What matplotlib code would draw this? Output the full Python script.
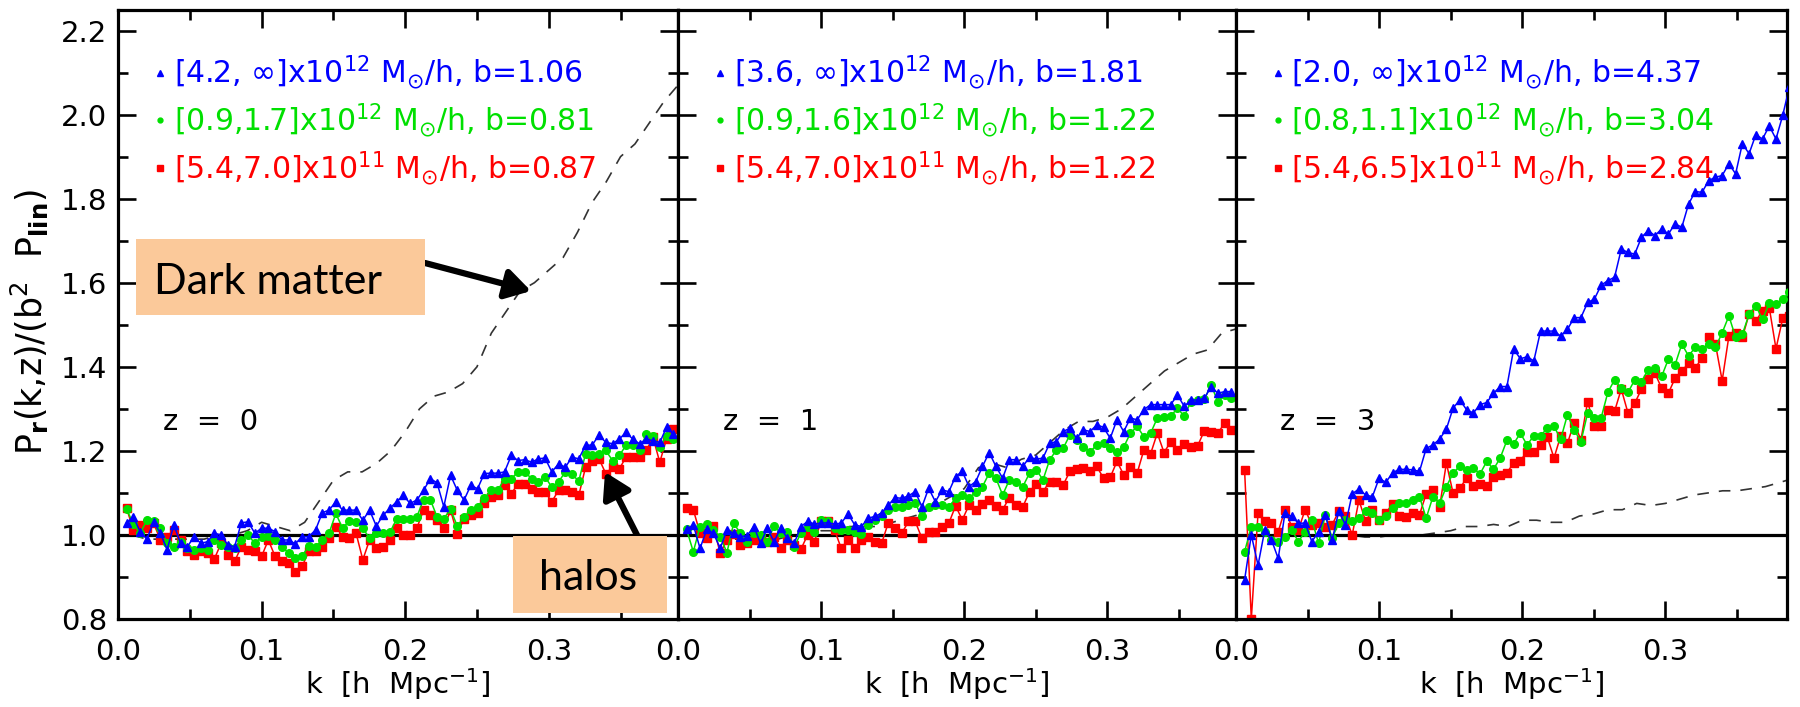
import numpy as np
import matplotlib.pyplot as plt
from matplotlib.lines import Line2D
from matplotlib.patches import Rectangle
from matplotlib.ticker import MultipleLocator, FormatStrFormatter

plt.rcParams['font.family'] = ['DejaVu Sans']
plt.rcParams['mathtext.fontset'] = 'dejavusans'

# halo spectra are sampled on a regular k grid (h/Mpc)
K_START = 0.006
K_STEP = 0.0047
N_K = 82
k = K_START + K_STEP * np.arange(N_K)
k_dm = np.arange(1, 40) * 0.01

# ---- z = 0 ----
blue_z0 = [1.029, 1.043, 1.008, 0.990, 1.031, 1.004, 0.965, 1.024, 0.980, 0.972,
           0.996, 0.980, 0.984, 1.004, 1.000, 0.976, 0.972, 1.029, 1.031, 1.004,
           1.016, 1.016, 1.008, 0.988, 0.988, 0.979, 0.996, 0.996, 1.012, 1.053,
           1.059, 1.079, 1.059, 1.059, 1.059, 1.035, 1.059, 1.021, 1.047, 1.063,
           1.079, 1.094, 1.075, 1.083, 1.106, 1.134, 1.124, 1.067, 1.142, 1.106,
           1.083, 1.118, 1.110, 1.146, 1.147, 1.147, 1.150, 1.189, 1.177, 1.179,
           1.173, 1.181, 1.183, 1.150, 1.169, 1.161, 1.185, 1.181, 1.213, 1.214,
           1.238, 1.220, 1.217, 1.228, 1.244, 1.228, 1.217, 1.228, 1.224, 1.220,
           1.256, 1.240]
green_z0 = [1.061, 1.026, 1.004, 1.035, 1.034, 1.016, 0.980, 0.972, 0.984, 0.969,
            0.963, 0.969, 0.963, 0.988, 0.976, 0.972, 0.969, 0.988, 1.000, 0.980,
            0.996, 0.998, 0.988, 0.972, 0.957, 0.945, 0.950, 0.974, 0.972, 0.988,
            1.004, 1.051, 1.016, 1.034, 1.031, 1.016, 0.992, 1.004, 1.004, 1.006,
            1.037, 1.037, 1.037, 1.043, 1.084, 1.084, 1.043, 1.039, 1.061, 1.021,
            1.043, 1.059, 1.067, 1.087, 1.106, 1.106, 1.134, 1.134, 1.150, 1.150,
            1.134, 1.126, 1.138, 1.114, 1.126, 1.150, 1.144, 1.128, 1.193, 1.189,
            1.193, 1.201, 1.177, 1.189, 1.213, 1.213, 1.201, 1.240, 1.236, 1.209,
            1.236, 1.228]
red_z0 = [1.063, 1.012, 1.024, 1.016, 1.028, 0.988, 0.996, 1.012, 0.988, 0.961,
          0.953, 0.961, 0.957, 0.943, 0.980, 0.953, 0.937, 0.972, 0.963, 0.961,
          0.949, 0.988, 0.949, 0.937, 0.933, 0.911, 0.925, 0.961, 0.961, 0.972,
          0.992, 1.020, 0.996, 0.992, 1.004, 0.941, 0.988, 0.969, 0.972, 0.988,
          1.016, 1.000, 1.000, 1.016, 1.059, 1.047, 1.035, 1.016, 1.059, 1.002,
          1.039, 1.047, 1.051, 1.075, 1.091, 1.094, 1.118, 1.098, 1.122, 1.122,
          1.110, 1.102, 1.102, 1.079, 1.106, 1.106, 1.102, 1.094, 1.161, 1.177,
          1.181, 1.146, 1.161, 1.157, 1.185, 1.185, 1.185, 1.201, 1.232, 1.173,
          1.228, 1.252]
dm_z0 = [1.00, 0.99, 0.99, 0.99, 0.99, 0.99, 1.00, 1.00, 1.01, 1.03,
         1.02, 1.01, 1.03, 1.08, 1.13, 1.15, 1.15, 1.17, 1.20, 1.245,
         1.30, 1.33, 1.34, 1.36, 1.40, 1.48, 1.53, 1.58, 1.60, 1.63,
         1.66, 1.72, 1.79, 1.84, 1.90, 1.93, 1.98, 2.03, 2.07]

# ---- z = 1 ----
blue_z1 = [1.013, 1.024, 0.968, 1.013, 1.004, 0.968, 1.012, 1.004, 0.996, 0.998,
           1.020, 0.980, 1.016, 0.984, 1.016, 0.992, 0.980, 1.020, 1.032, 1.026,
           1.028, 1.029, 1.026, 1.028, 1.050, 1.024, 1.020, 1.040, 1.044, 1.052,
           1.071, 1.089, 1.087, 1.093, 1.103, 1.067, 1.111, 1.079, 1.107, 1.103,
           1.139, 1.151, 1.115, 1.127, 1.163, 1.196, 1.163, 1.135, 1.179, 1.179,
           1.163, 1.185, 1.180, 1.183, 1.218, 1.222, 1.246, 1.254, 1.230, 1.250,
           1.246, 1.262, 1.256, 1.230, 1.274, 1.246, 1.278, 1.274, 1.298, 1.310,
           1.310, 1.310, 1.310, 1.333, 1.306, 1.321, 1.321, 1.325, 1.353, 1.337,
           1.341, 1.341]
green_z1 = [1.013, 0.960, 1.020, 1.026, 1.012, 0.996, 0.958, 1.028, 1.004, 0.984,
            1.004, 1.000, 0.982, 1.022, 1.004, 1.006, 0.972, 1.004, 1.020, 1.008,
            1.036, 1.032, 1.016, 1.012, 1.012, 1.006, 1.002, 1.024, 1.036, 1.044,
            1.060, 1.067, 1.067, 1.071, 1.075, 1.044, 1.067, 1.071, 1.071, 1.067,
            1.087, 1.095, 1.087, 1.103, 1.115, 1.147, 1.135, 1.095, 1.131, 1.127,
            1.115, 1.147, 1.155, 1.131, 1.179, 1.202, 1.206, 1.238, 1.226, 1.209,
            1.198, 1.214, 1.218, 1.206, 1.198, 1.209, 1.242, 1.258, 1.234, 1.242,
            1.278, 1.280, 1.282, 1.302, 1.282, 1.317, 1.320, 1.323, 1.357, 1.317,
            1.333, 1.325]
red_z1 = [1.063, 1.060, 1.004, 0.992, 1.021, 0.956, 0.988, 1.002, 0.976, 0.980,
          0.988, 0.988, 0.984, 0.996, 0.968, 0.988, 0.976, 0.966, 1.000, 0.984,
          1.032, 1.034, 1.012, 0.968, 0.988, 0.968, 0.988, 0.996, 0.984, 0.980,
          1.029, 1.016, 1.004, 1.032, 1.032, 0.992, 1.008, 1.008, 1.020, 1.028,
          1.069, 1.036, 1.071, 1.060, 1.074, 1.083, 1.069, 1.060, 1.089, 1.071,
          1.067, 1.103, 1.121, 1.103, 1.127, 1.125, 1.119, 1.151, 1.156, 1.159,
          1.153, 1.163, 1.135, 1.137, 1.175, 1.143, 1.161, 1.147, 1.202, 1.193,
          1.242, 1.196, 1.222, 1.202, 1.217, 1.209, 1.212, 1.248, 1.246, 1.242,
          1.266, 1.250]
dm_z1 = [1.00, 1.00, 1.00, 0.99, 0.99, 0.99, 0.99, 1.00, 1.00, 1.01,
         1.01, 1.02, 1.02, 1.02, 1.03, 1.04, 1.05, 1.07, 1.09, 1.11,
         1.16, 1.17, 1.16, 1.18, 1.19, 1.22, 1.25, 1.27, 1.27, 1.28,
         1.30, 1.33, 1.36, 1.39, 1.41, 1.43, 1.44, 1.48, 1.49]

# ---- z = 3 ----
blue_z3 = [0.893, 1.000, 0.928, 1.012, 0.988, 0.944, 1.052, 1.044, 1.028,
           1.028, 0.984, 1.008, 1.048, 0.987, 1.056, 1.024, 1.098, 1.109, 1.095,
           1.091, 1.135, 1.125, 1.148, 1.156, 1.156, 1.155, 1.151, 1.206, 1.214,
           1.228, 1.252, 1.302, 1.321, 1.298, 1.290, 1.310, 1.315, 1.337, 1.353,
           1.353, 1.442, 1.419, 1.424, 1.414, 1.485, 1.485, 1.485, 1.473, 1.489,
           1.517, 1.517, 1.553, 1.561, 1.594, 1.605, 1.613, 1.680, 1.672, 1.668,
           1.708, 1.724, 1.712, 1.728, 1.716, 1.740, 1.732, 1.787, 1.817, 1.815,
           1.843, 1.851, 1.855, 1.883, 1.859, 1.931, 1.907, 1.952, 1.942, 1.973,
           1.942, 1.998, 2.066]
green_z3 = [0.960, 1.020, 1.020, 1.008, 0.988, 0.984, 0.996, 1.012, 0.984,
            1.008, 1.036, 0.980, 1.048, 0.992, 1.028, 1.036, 1.032, 1.040, 1.056,
            1.052, 1.036, 1.044, 1.063, 1.075, 1.077, 1.082, 1.091, 1.040, 1.091,
            1.075, 1.115, 1.147, 1.164, 1.155, 1.159, 1.145, 1.175, 1.156, 1.183,
            1.225, 1.217, 1.242, 1.214, 1.236, 1.236, 1.254, 1.258, 1.228, 1.286,
            1.250, 1.222, 1.290, 1.278, 1.278, 1.339, 1.369, 1.349, 1.339, 1.369,
            1.365, 1.393, 1.397, 1.377, 1.418, 1.405, 1.454, 1.426, 1.446, 1.443,
            1.454, 1.446, 1.481, 1.521, 1.470, 1.477, 1.525, 1.545, 1.513, 1.551,
            1.549, 1.561, 1.577]
red_z3 = [1.155, 0.800, 1.052, 1.032, 1.028, 1.008, 1.060, 1.020, 1.012,
          1.060, 1.024, 1.028, 1.020, 1.024, 1.056, 1.044, 1.000, 1.083, 1.032,
          1.060, 1.036, 1.052, 1.074, 1.044, 1.042, 1.053, 1.048, 1.098, 1.106,
          1.067, 1.171, 1.099, 1.111, 1.135, 1.117, 1.121, 1.117, 1.139, 1.143,
          1.148, 1.171, 1.177, 1.198, 1.198, 1.214, 1.233, 1.183, 1.236, 1.218,
          1.267, 1.226, 1.317, 1.258, 1.260, 1.298, 1.294, 1.347, 1.290, 1.313,
          1.347, 1.371, 1.385, 1.349, 1.337, 1.373, 1.389, 1.409, 1.397, 1.421,
          1.470, 1.454, 1.367, 1.473, 1.481, 1.470, 1.525, 1.509, 1.533, 1.541,
          1.443, 1.515, 1.521]
dm_z3 = [1.00, 1.00, 1.00, 1.00, 1.00, 1.00, 1.00, 1.00, 0.995, 0.995,
         1.00, 1.00, 1.00, 1.005, 1.01, 1.02, 1.02, 1.025, 1.02, 1.035,
         1.035, 1.03, 1.03, 1.045, 1.05, 1.06, 1.06, 1.075, 1.07, 1.075,
         1.085, 1.095, 1.10, 1.105, 1.105, 1.11, 1.115, 1.125, 1.135]

redshift_labels = ['z  =  0', 'z  =  1', 'z  =  3']
legend_z0 = [r'[4.2, $\infty$]x10$^{12}$ M$_{\odot}$/h, b=1.06',
             r'[0.9,1.7]x10$^{12}$ M$_{\odot}$/h, b=0.81',
             r'[5.4,7.0]x10$^{11}$ M$_{\odot}$/h, b=0.87']
legend_z1 = [r'[3.6, $\infty$]x10$^{12}$ M$_{\odot}$/h, b=1.81',
             r'[0.9,1.6]x10$^{12}$ M$_{\odot}$/h, b=1.22',
             r'[5.4,7.0]x10$^{11}$ M$_{\odot}$/h, b=1.22']
legend_z3 = [r'[2.0, $\infty$]x10$^{12}$ M$_{\odot}$/h, b=4.37',
             r'[0.8,1.1]x10$^{12}$ M$_{\odot}$/h, b=3.04',
             r'[5.4,6.5]x10$^{11}$ M$_{\odot}$/h, b=2.84']

BLUE = '#0000ff'
GREEN = '#00e000'
RED = '#ff0000'
PEACH = '#fbc99a'

panels = [
    (blue_z0, green_z0, red_z0, dm_z0, legend_z0, redshift_labels[0]),
    (blue_z1, green_z1, red_z1, dm_z1, legend_z1, redshift_labels[1]),
    (blue_z3, green_z3, red_z3, dm_z3, legend_z3, redshift_labels[2]),
]

W, H = 1800, 707
fig = plt.figure(figsize=(18, 7.07), dpi=100)

# panel edges in pixels
lefts = [118, 678, 1236]
rights = [678, 1236, 1787]
xmaxs = [0.39, 0.39, 0.385]
top_px, bot_px = 9.5, 619

axes = []
for i, (b, g, r, dm, leg, zlab) in enumerate(panels):
    ax = fig.add_axes([lefts[i] / W, 1 - bot_px / H,
                       (rights[i] - lefts[i]) / W, (bot_px - top_px) / H])
    axes.append(ax)

    ax.plot(k_dm, dm, color='#333333', lw=1.2, ls=(0, (7, 6)), zorder=1)
    ax.axhline(1.0, color='black', lw=2.3, zorder=1.5)
    ax.plot(k, r, color=RED, lw=1.1, marker='s', ms=6.3, mec=RED, zorder=2)
    ax.plot(k, g, color=GREEN, lw=1.1, marker='o', ms=5.5, mec=GREEN, zorder=3)
    ax.plot(k, b, color=BLUE, lw=1.1, marker='^', ms=6.0, mec=BLUE, zorder=4)

    ax.set_xlim(0, xmaxs[i])
    ax.set_ylim(0.8, 2.25)
    ax.xaxis.set_major_locator(MultipleLocator(0.1))
    ax.xaxis.set_minor_locator(MultipleLocator(0.05))
    ax.yaxis.set_major_locator(MultipleLocator(0.2))
    ax.yaxis.set_minor_locator(MultipleLocator(0.1))
    ax.xaxis.set_major_formatter(FormatStrFormatter('%.1f'))
    ax.yaxis.set_major_formatter(FormatStrFormatter('%.1f'))
    ax.tick_params(which='both', direction='in', top=True, right=True,
                   width=1.9, labelsize=21)
    ax.tick_params(which='major', length=13)
    ax.tick_params(which='minor', length=7)
    ax.tick_params(axis='x', pad=14)
    ax.tick_params(axis='y', pad=8)
    if i > 0:
        ax.tick_params(labelleft=False)
    for sp in ax.spines.values():
        sp.set_linewidth(2.3)
    ax.set_xlabel(r'k  [h  Mpc$^{-1}$]', fontsize=21, labelpad=0)

    handles = [Line2D([], [], ls='none', marker='^', color=BLUE, ms=4),
               Line2D([], [], ls='none', marker='o', color=GREEN, ms=3.5),
               Line2D([], [], ls='none', marker='s', color=RED, ms=5)]
    ax.legend(handles, leg, loc='upper left', bbox_to_anchor=(0.065, 0.928),
              frameon=False, fontsize=21.5, handlelength=0.4, handletextpad=0.25,
              labelspacing=0.33, borderaxespad=0, borderpad=0,
              labelcolor=[BLUE, GREEN, RED])

    ax.text(0.08, 0.323, zlab, transform=ax.transAxes, fontsize=21,
            va='center', ha='left')

fig.text(30 / W, 1 - 322 / H,
         r'P$_{\mathbf{r}}$(k,z)/(b$^{2}$  P$_{\mathbf{lin}}$)',
         rotation=90, ha='center', va='center', fontsize=25)

# annotation boxes with arrows
fig.patches.append(Rectangle((136 / W, 1 - 315 / H), (425 - 136) / W, (315 - 239) / H,
                             transform=fig.transFigure, facecolor=PEACH,
                             edgecolor='none', zorder=5))
fig.text(154 / W, 1 - 294 / H, 'Dark matter', family='Lato', fontsize=31,
         ha='left', va='baseline', zorder=6)
fig.patches.append(Rectangle((513 / W, 1 - 613 / H), (667 - 513) / W, (613 - 536) / H,
                             transform=fig.transFigure, facecolor=PEACH,
                             edgecolor='none', zorder=5))
fig.text(588 / W, 1 - 590 / H, 'halos', family='Lato', fontsize=31,
         ha='center', va='baseline', zorder=6)

arrow_style = dict(arrowstyle='-|>,head_length=0.5,head_width=0.3', lw=4.5,
                   color='black', mutation_scale=30, shrinkA=0, shrinkB=0)
axes[0].annotate('', xy=(531 / W, 1 - 291 / H), xycoords='figure fraction',
                 xytext=(425 / W, 1 - 263 / H), textcoords='figure fraction',
                 arrowprops=arrow_style, annotation_clip=False, zorder=7)
axes[0].annotate('', xy=(605 / W, 1 - 472 / H), xycoords='figure fraction',
                 xytext=(638 / W, 1 - 537 / H), textcoords='figure fraction',
                 arrowprops=arrow_style, annotation_clip=False, zorder=7)

fig.savefig('out.png', dpi=100)
